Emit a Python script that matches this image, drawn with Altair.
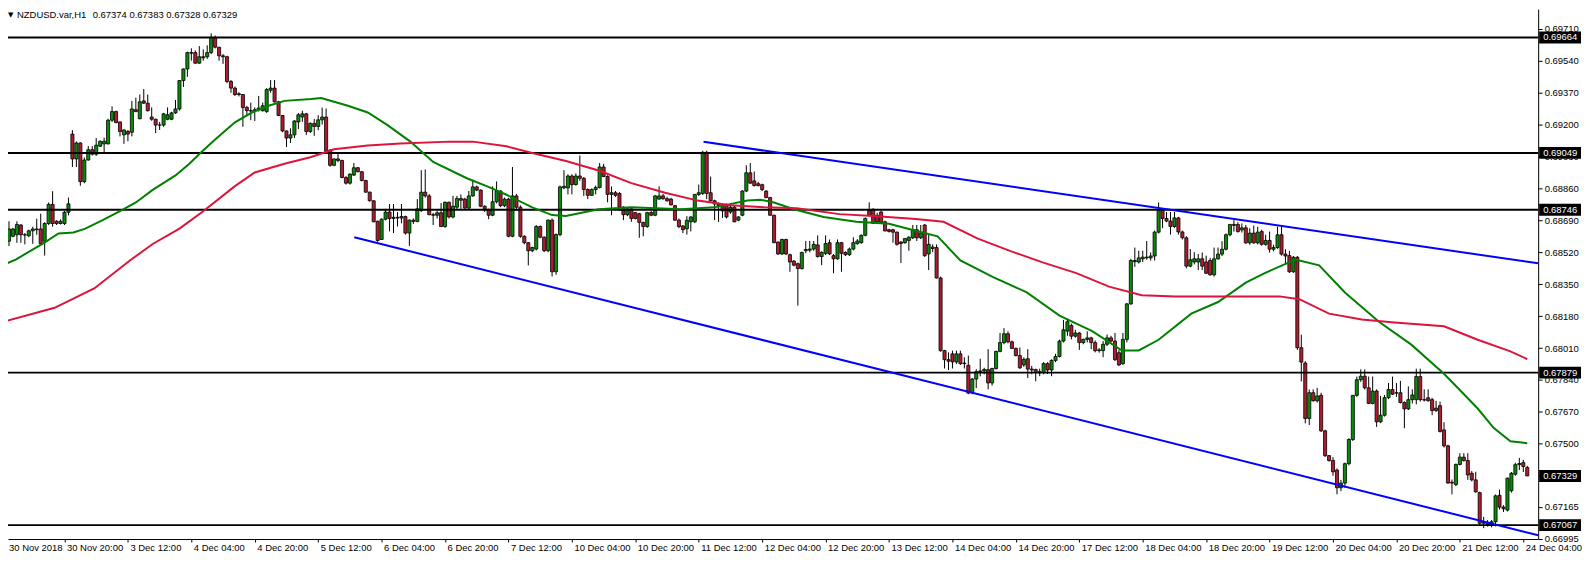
import altair as alt
import numpy as np
import pandas as pd

# ---------------- data (prices in 1e-5 units) ----------------
opens = [
68627, 68579, 68605, 68613, 68665, 68613, 68608, 68634, 68644, 68644,
68579, 68673, 68775, 68685, 68673, 68673, 68733, 69149, 69017, 69102,
68896, 69011, 69066, 69042, 69085, 69097, 69097, 69223, 69269, 69214,
69145, 69163, 69159, 69279, 69231, 69326, 69314, 69240, 69228, 69197,
69197, 69228, 69228, 69262, 69283, 69434, 69496, 69583, 69583, 69527,
69561, 69561, 69583, 69664, 69612, 69566, 69561, 69429, 69394, 69360,
69360, 69291, 69274, 69274, 69279, 69274, 69269, 69383, 69394, 69321,
69248, 69166, 69128, 69145, 69214, 69240, 69257, 69163, 69206, 69190,
69225, 69240, 69064, 68983, 69017, 69009, 68918, 68888, 68931, 68970,
68949, 68902, 68840, 68794, 68685, 68588, 68696, 68734, 68700, 68706,
68702, 68710, 68622, 68691, 68684, 68742, 68840, 68820, 68720, 68717,
68730, 68657, 68786, 68708, 68760, 68806, 68803, 68755, 68820, 68868,
68851, 68765, 68748, 68717, 68789, 68846, 68768, 68803, 68605, 68820,
68760, 68605, 68571, 68528, 68537, 68657, 68600, 68528, 68691, 68416,
68614, 68863, 68863, 68926, 68880, 68926, 68914, 68854, 68823, 68854,
68865, 68974, 68923, 68828, 68837, 68833, 68760, 68720, 68751, 68731,
68725, 68679, 68657, 68731, 68717, 68803, 68820, 68805, 68803, 68768,
68691, 68660, 68645, 68682, 68682, 68828, 68833, 69052, 68837, 68794,
68777, 68765, 68772, 68734, 68760, 68691, 68717, 68846, 68943, 68900,
68885, 68880, 68846, 68811, 68717, 68574, 68511, 68588, 68507, 68473,
68459, 68433, 68528, 68531, 68537, 68559, 68497, 68514, 68571, 68502,
68485, 68571, 68519, 68507, 68537, 68566, 68571, 68610, 68742, 68748,
68717, 68734, 68682, 68640, 68640, 68627, 68574, 68571, 68583, 68597,
68640, 68597, 68665, 68511, 68540, 68545, 68383, 67996, 67948, 67979,
67936, 67979, 67930, 67918, 67772, 67845, 67884, 67888, 67895, 67824,
67901, 67992, 68039, 68086, 68043, 68008, 67970, 67920, 67953, 67898,
67895, 67884, 67880, 67927, 67893, 67944, 67965, 68047, 68100, 68130,
68073, 68090, 68039, 68056, 68064, 68039, 67996, 67996, 68030, 68064,
68047, 67985, 67927, 68056, 68245, 68476, 68468, 68485, 68494, 68490,
68500, 68627, 68743, 68700, 68686, 68657, 68703, 68628, 68597, 68446,
68468, 68468, 68485, 68468, 68476, 68400, 68485, 68510, 68536, 68613,
68668, 68668, 68639, 68650, 68570, 68622, 68570, 68630, 68562, 68583,
68536, 68545, 68613, 68510, 68502, 68416, 68493, 68012, 67930, 67635,
67772, 67729, 67758, 67569, 67437, 67411, 67360, 67266, 67291, 67394,
67523, 67758, 67841, 67860, 67798, 67715, 67781, 67617, 67652, 67746,
67789, 67770, 67772, 67720, 67686, 67735, 67735, 67858, 67735, 67745,
67735, 67690, 67703, 67574, 67489, 67295, 67283, 67390, 67429, 67411,
67343, 67308, 67240, 67077, 67080, 67068, 67085, 67226, 67163, 67147,
67250, 67338, 67389, 67400, 67374,
]
highs = [
68634, 68685, 68650, 68685, 68670, 68622, 68640, 68656, 68699, 68725,
68680, 68785, 68845, 68690, 68695, 68740, 68811, 69170, 69110, 69105,
69025, 69085, 69085, 69128, 69115, 69130, 69231, 69297, 69274, 69216,
69175, 69171, 69326, 69343, 69360, 69389, 69360, 69291, 69231, 69214,
69262, 69291, 69268, 69331, 69437, 69498, 69588, 69606, 69595, 69618,
69600, 69622, 69686, 69674, 69612, 69575, 69566, 69437, 69403, 69372,
69362, 69300, 69317, 69291, 69352, 69317, 69394, 69437, 69437, 69326,
69250, 69168, 69180, 69223, 69262, 69274, 69262, 69212, 69230, 69250,
69290, 69285, 69068, 69020, 69043, 69012, 68925, 68940, 68995, 68974,
68952, 68906, 68843, 68797, 68688, 68700, 68751, 68777, 68777, 68734,
68777, 68715, 68695, 68700, 68803, 68957, 68961, 68830, 68730, 68740,
68782, 68790, 68790, 68820, 68820, 68828, 68810, 68846, 68906, 68875,
68855, 68770, 68752, 68871, 68897, 68850, 68811, 68810, 68974, 68830,
68770, 68610, 68575, 68550, 68665, 68662, 68605, 68695, 68700, 68620,
68875, 68957, 68935, 68935, 68940, 69035, 68920, 68860, 68860, 68875,
68995, 68991, 68930, 68870, 68846, 68840, 68765, 68755, 68755, 68735,
68730, 68682, 68735, 68740, 68825, 68871, 68830, 68815, 68810, 68772,
68700, 68665, 68712, 68712, 68830, 68880, 69060, 69060, 68923, 68800,
68785, 68770, 68780, 68775, 68768, 68712, 68850, 68983, 68995, 68950,
68895, 68885, 68850, 68815, 68720, 68578, 68592, 68592, 68512, 68478,
68465, 68522, 68580, 68580, 68580, 68610, 68525, 68610, 68588, 68510,
68588, 68575, 68525, 68545, 68600, 68590, 68615, 68705, 68786, 68755,
68730, 68742, 68688, 68645, 68645, 68630, 68580, 68595, 68605, 68665,
68665, 68665, 68670, 68614, 68562, 68562, 68390, 68000, 67987, 67996,
67996, 67996, 67961, 67970, 67850, 67897, 67953, 67905, 68004, 67905,
67996, 68090, 68116, 68099, 68050, 68013, 68013, 67960, 68004, 67915,
67900, 67900, 67935, 67935, 67950, 67979, 68055, 68159, 68167, 68140,
68107, 68095, 68060, 68099, 68070, 68050, 68010, 68047, 68082, 68075,
68090, 68000, 68090, 68250, 68485, 68545, 68528, 68528, 68580, 68519,
68635, 68785, 68755, 68734, 68734, 68734, 68708, 68635, 68605, 68537,
68520, 68511, 68519, 68502, 68490, 68545, 68545, 68579, 68620, 68670,
68691, 68680, 68673, 68665, 68648, 68662, 68656, 68640, 68613, 68630,
68560, 68656, 68656, 68536, 68527, 68500, 68500, 68081, 67940, 67789,
67790, 67798, 67772, 67575, 67440, 67429, 67369, 67308, 67400, 67530,
67760, 67858, 67896, 67896, 67858, 67858, 67790, 67755, 67760, 67824,
67858, 67824, 67835, 67726, 67806, 67790, 67900, 67900, 67790, 67790,
67745, 67729, 67725, 67615, 67495, 67310, 67395, 67450, 67450, 67450,
67355, 67351, 67245, 67111, 67094, 67094, 67230, 67256, 67173, 67320,
67350, 67400, 67425, 67415, 67383,
]
lows = [
68544, 68553, 68600, 68570, 68570, 68562, 68600, 68565, 68613, 68565,
68502, 68665, 68656, 68665, 68668, 68665, 68716, 68974, 68974, 68874,
68887, 69008, 69035, 69033, 69080, 69054, 69094, 69214, 69206, 69137,
69097, 69111, 69137, 69266, 69228, 69309, 69269, 69220, 69154, 69171,
69188, 69223, 69223, 69257, 69274, 69400, 69454, 69540, 69523, 69523,
69540, 69549, 69575, 69605, 69540, 69523, 69420, 69369, 69352, 69350,
69188, 69248, 69223, 69219, 69269, 69269, 69262, 69369, 69317, 69245,
69159, 69080, 69102, 69128, 69176, 69214, 69145, 69155, 69140, 69170,
69200, 69043, 68975, 68978, 69000, 68914, 68880, 68880, 68926, 68945,
68897, 68837, 68790, 68680, 68575, 68585, 68690, 68631, 68622, 68657,
68674, 68614, 68554, 68670, 68680, 68734, 68811, 68717, 68665, 68700,
68655, 68650, 68700, 68700, 68748, 68751, 68751, 68748, 68815, 68845,
68760, 68734, 68696, 68712, 68780, 68760, 68760, 68600, 68600, 68742,
68597, 68562, 68450, 68520, 68530, 68595, 68520, 68520, 68391, 68400,
68605, 68855, 68828, 68828, 68875, 68900, 68820, 68803, 68820, 68828,
68860, 68920, 68786, 68717, 68815, 68740, 68691, 68712, 68682, 68695,
68597, 68605, 68650, 68712, 68712, 68800, 68800, 68790, 68770, 68688,
68648, 68622, 68614, 68631, 68675, 68820, 68825, 68803, 68790, 68691,
68682, 68703, 68700, 68725, 68680, 68685, 68712, 68840, 68885, 68870,
68870, 68846, 68808, 68715, 68568, 68505, 68505, 68505, 68416, 68445,
68236, 68428, 68515, 68520, 68528, 68492, 68451, 68505, 68505, 68408,
68480, 68416, 68500, 68500, 68530, 68560, 68565, 68605, 68710, 68670,
68675, 68675, 68630, 68625, 68571, 68555, 68463, 68565, 68528, 68590,
68580, 68590, 68495, 68425, 68520, 68380, 67990, 67901, 67893, 67901,
67925, 67920, 67901, 67764, 67764, 67797, 67859, 67870, 67790, 67810,
67895, 67987, 68030, 68035, 68004, 67965, 67898, 67910, 67850, 67870,
67833, 67860, 67870, 67872, 67860, 67935, 67960, 68040, 68075, 68056,
68065, 68000, 68030, 68040, 68004, 67987, 67985, 67961, 68020, 68040,
67940, 67915, 67920, 68040, 68240, 68442, 68460, 68468, 68480, 68476,
68476, 68620, 68648, 68680, 68614, 68650, 68614, 68588, 68434, 68440,
68455, 68425, 68425, 68405, 68395, 68390, 68480, 68500, 68530, 68605,
68630, 68625, 68625, 68565, 68560, 68565, 68562, 68555, 68555, 68518,
68525, 68538, 68502, 68459, 68410, 68410, 68000, 67832, 67609, 67600,
67725, 67720, 67563, 67429, 67405, 67330, 67231, 67248, 67266, 67385,
67515, 67750, 67830, 67789, 67712, 67710, 67590, 67610, 67645, 67738,
67760, 67750, 67715, 67583, 67680, 67715, 67710, 67725, 67725, 67725,
67652, 67670, 67560, 67480, 67288, 67231, 67275, 67385, 67405, 67308,
67300, 67240, 67068, 67051, 67059, 67055, 67060, 67150, 67137, 67140,
67240, 67330, 67360, 67350, 67328,
]
closes = [
68553, 68644, 68644, 68668, 68613, 68612, 68634, 68644, 68640, 68565,
68673, 68775, 68673, 68673, 68685, 68733, 68778, 69017, 69102, 68896,
69011, 69066, 69042, 69090, 69111, 69111, 69223, 69269, 69211, 69163,
69171, 69149, 69283, 69269, 69321, 69314, 69274, 69228, 69197, 69197,
69257, 69252, 69262, 69283, 69434, 69496, 69583, 69580, 69527, 69561,
69555, 69583, 69664, 69612, 69566, 69561, 69429, 69394, 69360, 69364,
69291, 69274, 69272, 69279, 69288, 69300, 69386, 69394, 69321, 69248,
69166, 69128, 69145, 69219, 69252, 69257, 69163, 69206, 69190, 69225,
69240, 69058, 68983, 69017, 69009, 68918, 68888, 68936, 68970, 68949,
68902, 68840, 68794, 68682, 68583, 68696, 68734, 68700, 68706, 68702,
68710, 68622, 68691, 68684, 68751, 68840, 68820, 68720, 68717, 68730,
68657, 68786, 68708, 68765, 68806, 68797, 68755, 68820, 68868, 68851,
68765, 68748, 68717, 68789, 68846, 68768, 68803, 68605, 68820, 68760,
68605, 68571, 68528, 68545, 68657, 68600, 68528, 68691, 68416, 68614,
68868, 68871, 68926, 68880, 68926, 68914, 68854, 68823, 68854, 68865,
68974, 68923, 68828, 68837, 68823, 68760, 68720, 68751, 68700, 68700,
68679, 68657, 68731, 68717, 68820, 68820, 68805, 68794, 68772, 68691,
68657, 68640, 68690, 68708, 68828, 68837, 69052, 68833, 68794, 68777,
68765, 68740, 68708, 68760, 68682, 68708, 68846, 68943, 68888, 68875,
68875, 68854, 68811, 68717, 68571, 68511, 68588, 68511, 68468, 68451,
68433, 68519, 68535, 68537, 68562, 68497, 68519, 68566, 68511, 68485,
68571, 68514, 68507, 68537, 68571, 68580, 68610, 68700, 68717, 68674,
68682, 68679, 68634, 68631, 68627, 68562, 68566, 68593, 68600, 68640,
68597, 68622, 68502, 68562, 68548, 68383, 67996, 67948, 67940, 67936,
67979, 67927, 67927, 67770, 67845, 67884, 67888, 67895, 67824, 67901,
67992, 68039, 68086, 68043, 68008, 67970, 67905, 67950, 67898, 67893,
67880, 67878, 67927, 67893, 67944, 67965, 68047, 68107, 68150, 68073,
68090, 68039, 68056, 68064, 68039, 67996, 68000, 68030, 68064, 68047,
67948, 67920, 68056, 68245, 68476, 68470, 68490, 68494, 68490, 68500,
68627, 68743, 68700, 68686, 68657, 68703, 68628, 68597, 68446, 68480,
68485, 68485, 68446, 68408, 68400, 68485, 68510, 68536, 68613, 68668,
68663, 68630, 68650, 68570, 68622, 68570, 68627, 68562, 68583, 68536,
68545, 68613, 68510, 68500, 68416, 68493, 68012, 67935, 67635, 67772,
67729, 67755, 67569, 67437, 67411, 67351, 67266, 67291, 67394, 67523,
67758, 67841, 67860, 67798, 67715, 67781, 67617, 67652, 67746, 67789,
67764, 67772, 67720, 67686, 67735, 67760, 67858, 67735, 67733, 67729,
67677, 67677, 67566, 67489, 67291, 67291, 67390, 67429, 67411, 67334,
67308, 67244, 67077, 67080, 67070, 67085, 67223, 67163, 67154, 67317,
67343, 67389, 67395, 67379, 67329,
]
bar_index = list(range(1, len(opens) + 1))
assert len(opens) == len(highs) == len(lows) == len(closes) == 385

# moving averages (at sample bars)
ma_fast_bar = [0.75, 3.7, 10.75, 14.5, 18.25, 21.25, 25.75, 30, 34, 38.25, 44, 47.5, 50.75, 54, 59,
               63.25, 67.5, 71.5, 78.25, 80.75, 87.5, 92.5, 97.5, 103.25, 109, 117.5, 122.5, 127.5,
               134, 139, 142.5, 150.75, 159, 171.5, 180, 188.25, 191.5, 195, 200, 207.5, 215.75, 224,
               229.5, 236.25, 242, 250.25, 258.75, 267, 275.25, 282.75, 287, 292, 300.25, 307, 314,
               318.25, 326.5, 332.5, 339, 347.5, 355.75, 364, 372.5, 376.5, 380.75, 385]
ma_fast_val = [68455, 68481, 68569, 68620, 68625, 68646, 68692, 68739, 68785, 68852, 68929, 68991,
               69058, 69120, 69212, 69264, 69300, 69326, 69336, 69341, 69300, 69264, 69197, 69109,
               69001, 68914, 68872, 68826, 68759, 68718, 68713, 68749, 68759, 68749, 68759, 68795,
               68800, 68785, 68749, 68708, 68682, 68672, 68641, 68605, 68476, 68388, 68306, 68183,
               68100, 67997, 67997, 68054, 68193, 68255, 68358, 68404, 68481, 68450, 68306, 68151,
               68028, 67873, 67688, 67585, 67513, 67503]
ma_slow_bar = [0.75, 13.5, 23.5, 32.5, 38.25, 45, 50.75, 59, 64, 71.5, 78.25, 84, 92.5, 100.75, 113.25,
               119, 127.5, 134, 142.5, 150.75, 159, 167.5, 175.75, 184, 192.5, 200.75, 211.5, 220,
               230.75, 237.75, 246.25, 254.5, 262.75, 271.25, 279.5, 287.75, 296.25, 307, 322.5, 327.5,
               335, 343.25, 351.5, 364, 372.5, 380.75, 385]
ma_slow_val = [68151, 68224, 68327, 68476, 68564, 68646, 68734, 68872, 68945, 68991, 69027, 69068,
               69089, 69099, 69109, 69109, 69084, 69048, 69006, 68955, 68888, 68837, 68795, 68770,
               68759, 68754, 68723, 68713, 68697, 68682, 68594, 68527, 68466, 68409, 68337, 68291,
               68285, 68285, 68285, 68270, 68193, 68162, 68146, 68126, 68054, 67992, 67951]

# channel trendlines
upper_bar = [177.2, 387.75]
upper_val = [69108, 68461]
lower_bar = [89.1, 387.75]
lower_val = [68600, 67013]

# horizontal levels and current price
levels = [0.69664, 0.69049, 0.68746, 0.67879, 0.67067]
current_price = 0.67329

y_ticks = [0.69710, 0.69540, 0.69370, 0.69200, 0.69030, 0.68860, 0.68690, 0.68520, 0.68350,
           0.68180, 0.68010, 0.67840, 0.67670, 0.67500, 0.67330, 0.67165, 0.66995]
x_tick_bars = [16 * k for k in range(1, 25)]
x_tick_labels = ["30 Nov 20:00", "3 Dec 12:00", "4 Dec 04:00", "4 Dec 20:00", "5 Dec 12:00",
                 "6 Dec 04:00", "6 Dec 20:00", "7 Dec 12:00", "10 Dec 04:00", "10 Dec 20:00",
                 "11 Dec 12:00", "12 Dec 04:00", "12 Dec 20:00", "13 Dec 12:00", "14 Dec 04:00",
                 "14 Dec 20:00", "17 Dec 12:00", "18 Dec 04:00", "18 Dec 20:00", "19 Dec 12:00",
                 "20 Dec 04:00", "20 Dec 20:00", "21 Dec 12:00", "24 Dec 04:00"]
first_label = "30 Nov 2018"
title_symbol = "NZDUSD.var,H1"
title_prices = "0.67374 0.67383 0.67328 0.67329"

# ---------------- build ----------------
P = 1e-5
W, H = 1536, 532
FONT = "Liberation Sans"

cd = pd.DataFrame({
    "i": bar_index,
    "o": [v * P for v in opens],
    "h": [v * P for v in highs],
    "l": [v * P for v in lows],
    "c": [v * P for v in closes],
})
cd["dir"] = np.where(cd["c"] >= cd["o"], "up", "down")
cd["left"] = cd["i"] - 0.39
cd["right"] = cd["i"] + 0.39

fast = pd.DataFrame({"i": ma_fast_bar, "p": [v * P for v in ma_fast_val]})
slow = pd.DataFrame({"i": ma_slow_bar, "p": [v * P for v in ma_slow_val]})
upper = pd.DataFrame({"i": upper_bar, "p": [v * P for v in upper_val]})
lower = pd.DataFrame({"i": lower_bar, "p": [v * P for v in lower_val]})
lv = pd.DataFrame({"i": [1.75] * len(levels), "i2": [387.75] * len(levels), "p": levels})
boxes = pd.DataFrame({"p": levels + [current_price],
                      "label": [f"{v:.5f}" for v in levels + [current_price]]})

xs = alt.Scale(domain=[1.75, 387.75], nice=False, zero=False)
ys = alt.Scale(domain=[0.66993, 0.69815], nice=False, zero=False)

label_array = "[" + ",".join(f"'{s}'" for s in x_tick_labels) + "]"
x_axis = alt.Axis(values=x_tick_bars, labelExpr=label_array + "[round(datum.value/16)-1]",
                  grid=False, tickSize=3, labelPadding=1, labelAlign="left", labelOffset=2,
                  labelFont=FONT, labelFontSize=9.5, labelColor="black", domainColor="black",
                  tickColor="black", title=None, labelOverlap=False, labelFlush=False,
                  labelBound=False)
y_axis = alt.Axis(orient="right", values=y_ticks, format=".5f", grid=False, tickSize=4,
                  labelPadding=2, labelFont=FONT, labelFontSize=9.5, labelColor="black",
                  domainColor="black", tickColor="black", title=None, labelOverlap=False,
                  labelFlush=False, labelBound=False)


def X(field):
    return alt.X(field, type="quantitative", scale=xs, axis=x_axis)


def Y(field):
    return alt.Y(field, type="quantitative", scale=ys, axis=y_axis)


wicks = alt.Chart(cd).mark_rule(color="black", strokeWidth=1, clip=True).encode(
    x=X("i"), y=Y("l"), y2="h:Q",
)
bodies = alt.Chart(cd).mark_bar(stroke="black", strokeWidth=0.8, clip=True).encode(
    x=X("left"), x2="right:Q",
    y=Y("o"), y2="c:Q",
    color=alt.Color("dir:N", scale=alt.Scale(domain=["up", "down"], range=["#0a8a0a", "#b01c2e"]),
                    legend=None),
)
hlines = alt.Chart(lv).mark_rule(color="black", strokeWidth=2, clip=True).encode(
    x=X("i"), x2="i2:Q", y=Y("p"),
)
fast_line = alt.Chart(fast).mark_line(color="#008000", strokeWidth=2, clip=True).encode(
    x=X("i"), y=Y("p"))
slow_line = alt.Chart(slow).mark_line(color="#dc143c", strokeWidth=2, clip=True).encode(
    x=X("i"), y=Y("p"))
up_line = alt.Chart(upper).mark_line(color="#0000ff", strokeWidth=2, clip=True).encode(
    x=X("i"), y=Y("p"))
low_line = alt.Chart(lower).mark_line(color="#0000ff", strokeWidth=2, clip=True).encode(
    x=X("i"), y=Y("p"))

box_bg = alt.Chart(boxes).mark_rule(color="black", strokeWidth=12).encode(
    y=Y("p"), x=alt.value(W + 1), x2=alt.value(W + 43),
)
box_txt = alt.Chart(boxes).mark_text(align="left", baseline="middle", color="white",
                                     font=FONT, fontSize=9.5).encode(
    y=Y("p"), x=alt.value(W + 5), text="label:N",
)

title_df = pd.DataFrame({"sym": [title_symbol], "px": [title_prices], "first": [first_label]})
tri = alt.Chart(title_df).mark_text(text="▼", fontSize=7, color="black", align="left",
                                    baseline="top", font="DejaVu Sans").encode(
    x=alt.value(0), y=alt.value(2))
t1 = alt.Chart(title_df).mark_text(align="left", baseline="top", font=FONT, fontSize=9.5,
                                   color="black").encode(x=alt.value(9), y=alt.value(1), text="sym:N")
t2 = alt.Chart(title_df).mark_text(align="left", baseline="top", font=FONT, fontSize=9.5,
                                   color="black").encode(x=alt.value(85), y=alt.value(1), text="px:N")
t3 = alt.Chart(title_df).mark_text(align="left", baseline="top", font=FONT, fontSize=9.5,
                                   color="black").encode(x=alt.value(1), y=alt.value(H + 4),
                                                         text="first:N")

chart = alt.layer(
    wicks, bodies, hlines, fast_line, slow_line, up_line, low_line, box_bg, box_txt, tri, t1, t2, t3
).properties(
    width=W, height=H,
    autosize=alt.AutoSizeParams(type="none"),
    padding={"left": 0, "top": 0, "right": 44, "bottom": 16},
    background="white",
).configure_view(stroke=None)

chart.save("out.html", embed_options={"renderer": "svg", "actions": False})
